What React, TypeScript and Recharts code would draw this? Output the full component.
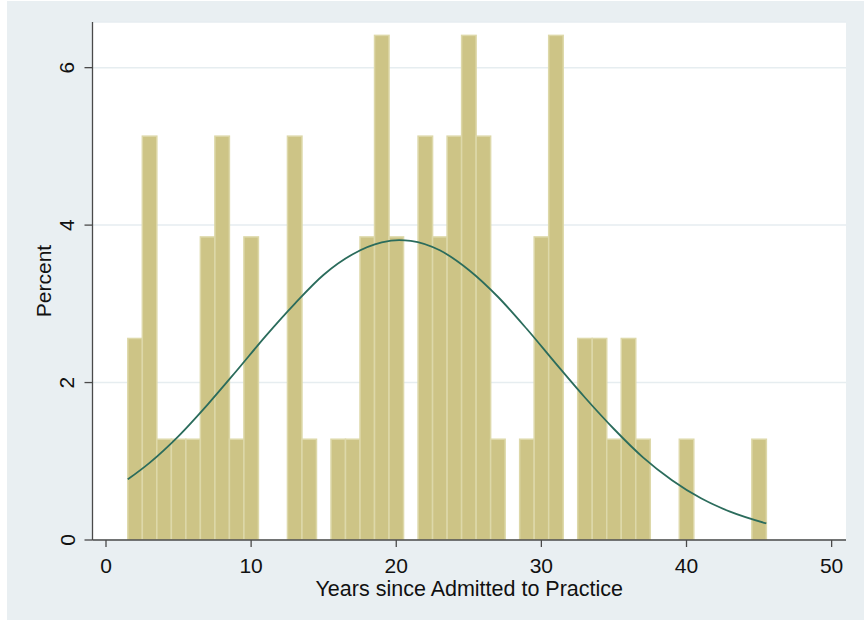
import { ComposedChart, Bar, Line, XAxis, YAxis, CartesianGrid, Label } from 'recharts';

// bin centres (years), one-year bins
const binCenters = [
  2, 3, 4, 5, 6, 7, 8, 9, 10, 11, 12, 13, 14, 15, 16, 17, 18, 19, 20, 21, 22, 23,
  24, 25, 26, 27, 28, 29, 30, 31, 32, 33, 34, 35, 36, 37, 38, 39, 40, 41, 42, 43, 44, 45
];
// percent in each bin (0 = no bar)
const binPercent = [
  2.56, 5.13, 1.28, 1.28, 1.28, 3.85, 5.13, 1.28, 3.85, 0, 0, 5.13, 1.28, 0, 1.28, 1.28, 3.85, 6.41, 3.85, 0, 5.13, 3.85,
  5.13, 6.41, 5.13, 1.28, 0, 1.28, 3.85, 6.41, 0, 2.56, 2.56, 1.28, 2.56, 1.28, 0, 0, 1.28, 0, 0, 0, 0, 1.28
];

// normal density overlay
const curveX = [1.5, 3, 5, 7, 9, 11, 13, 15, 17, 19, 20.2, 21, 23, 25, 27, 29, 31, 33, 35, 37, 39, 41, 43, 45.5];
const curveY = [0.77, 0.98, 1.32, 1.72, 2.15, 2.59, 3.0, 3.37, 3.63, 3.78, 3.81, 3.8, 3.68, 3.43, 3.09, 2.68, 2.24, 1.81, 1.41, 1.05, 0.76, 0.53, 0.36, 0.21];

const xTicks = [0, 10, 20, 30, 40, 50];
const yTicks = [0, 2, 4, 6];

const barData = binCenters.map((x, i) => ({ x, pct: binPercent[i] > 0 ? binPercent[i] : null }));
const curveData = curveX.map((x, i) => ({ x, density: curveY[i] }));

const FONT = '"Liberation Sans", Arial, Helvetica, sans-serif';
const AXIS = '#4a4a4a';
const BIN_PX = 14.51; // one year on the x scale

// recharts squeezes bars on a numeric axis, so draw each one a full bin wide around its centre
const BinBar = (props: any) => {
  const { x, y, width, height } = props;
  if (height == null || height <= 0) return null;
  const cx = x + width / 2;
  return (
    <rect
      x={cx - BIN_PX / 2}
      y={y}
      width={BIN_PX}
      height={height}
      fill="#cdc486"
      stroke="#ddd8a9"
      strokeWidth={1.5}
    />
  );
};

const YTick = (props: any) => {
  const { y, payload } = props;
  const cx = 60;
  return (
    <text
      x={cx}
      y={y}
      transform={`rotate(-90, ${cx}, ${y})`}
      textAnchor="middle"
      dominantBaseline="central"
      fontFamily={FONT}
      fontSize={21}
      fill="#111"
    >
      {payload.value}
    </text>
  );
};

export default function App() {
  return (
    <div style={{ position: 'absolute', left: 0, top: 0, width: 864, height: 623, background: '#ffffff' }}>
      <div style={{ position: 'absolute', left: 7, top: 1 }}>
        <ComposedChart
          width={857}
          height={619}
          data={barData}
          margin={{ top: 21, right: 18, bottom: 20, left: 0 }}
          barGap={0}
          barCategoryGap={0}
          style={{ background: '#e9eff2' }}
        >
          <CartesianGrid vertical={false} stroke="#e6edf0" strokeWidth={1.5} fill="#ffffff" />
          <XAxis
            dataKey="x"
            type="number"
            domain={[-0.93, 50.99]}
            ticks={xTicks}
            allowDataOverflow
            height={60}
            tickSize={7}
            tickMargin={11}
            stroke={AXIS}
            strokeWidth={1.3}
            tick={{ fill: '#111', fontSize: 21, fontFamily: FONT }}
          >
            <Label
              content={(p: any) => {
                const vb = p.viewBox;
                return (
                  <text
                    x={vb.x + vb.width / 2}
                    y={vb.y + 56}
                    textAnchor="middle"
                    fontFamily={FONT}
                    fontSize={21.5}
                    fill="#111"
                  >
                    Years since Admitted to Practice
                  </text>
                );
              }}
            />
          </XAxis>
          <YAxis
            type="number"
            domain={[0, 6.58]}
            ticks={yTicks}
            allowDataOverflow
            width={85.5}
            tickSize={8}
            stroke={AXIS}
            strokeWidth={1.3}
            tick={<YTick />}
          >
            <Label
              content={(p: any) => {
                const vb = p.viewBox;
                const cx = 36;
                const cy = vb.y + vb.height / 2;
                return (
                  <text
                    x={cx}
                    y={cy}
                    transform={`rotate(-90, ${cx}, ${cy})`}
                    textAnchor="middle"
                    dominantBaseline="central"
                    fontFamily={FONT}
                    fontSize={21}
                    fill="#111"
                  >
                    Percent
                  </text>
                );
              }}
            />
          </YAxis>
          <Bar dataKey="pct" shape={<BinBar />} isAnimationActive={false} />
          <Line
            data={curveData}
            dataKey="density"
            type="monotone"
            stroke="#2b6c5c"
            strokeWidth={1.8}
            dot={false}
            activeDot={false}
            isAnimationActive={false}
          />
        </ComposedChart>
      </div>
    </div>
  );
}
